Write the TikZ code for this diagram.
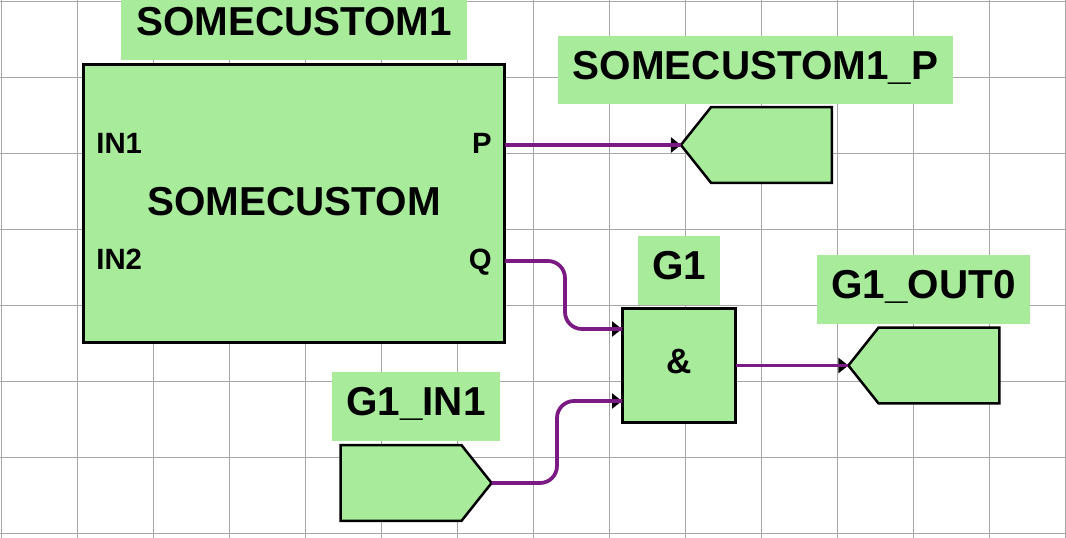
\documentclass[tikz,border=0pt]{standalone}
\usepackage{fontspec}
\setmainfont{Liberation Sans}
\usepackage{xcolor}
\usetikzlibrary{arrows.meta,shapes.symbols}
\definecolor{cellgreen}{HTML}{A8EC9B}
\definecolor{wirepurple}{HTML}{7B1A83}
\definecolor{gridgray}{HTML}{A6A6A6}

\begin{document}
\begin{tikzpicture}[
    x=0.02cm,y=-0.02cm,
    cell/.style   = {rectangle,draw=black,fill=cellgreen,line width=0.06cm,
                     inner sep=0pt,outer sep=0pt},
    taglab/.style = {rectangle,fill=cellgreen,inner sep=0pt,outer sep=0pt,
                     align=center,font=\fontsize{23}{25}\selectfont\bfseries,
                     text height=16.6pt,text depth=6.2pt},
    port/.style   = {font=\fontsize{16.7}{18}\selectfont\bfseries,inner sep=0pt,
                     text height=12pt,text depth=0pt},
    tagin/.style  = {signal,signal to=west,signal pointer angle=103,draw=black,
                     fill=cellgreen,line width=0.05cm,inner sep=0pt,outer sep=0pt,
                     minimum width=3.02cm,minimum height=1.52cm},
    tagout/.style = {tagin,signal to=east},
    fl/.style     = {wirepurple,line width=0.075cm,rounded corners=0.34cm,
                     preaction={draw,-{Triangle[black,length=0.2cm,width=0.3cm]}}},
  ]
  \useasboundingbox (0,0) rectangle (1066,538);

  % -- Grid ----------------------------------------------------------------
  \foreach \gx in {1,77,153,229,305,381,457,533,609,685,761,837,913,989,1065}
    \draw[gridgray,line width=0.02cm] (\gx,0) -- (\gx,538);
  \foreach \gy in {1,77,153,229,305,381,457,533}
    \draw[gridgray,line width=0.02cm] (0,\gy) -- (1066,\gy);

  % -- Block SOMECUSTOM ----------------------------------------------------
  \node[taglab,minimum width=6.92cm,minimum height=1.36cm] (lblcustom) at (294,26) {SOMECUSTOM1};
  \node[cell,minimum width=8.44cm,minimum height=5.58cm] (custom) at (294,203.5) {};
  \node[font=\fontsize{23}{25}\selectfont\bfseries,inner sep=0pt] (namecustom) at (294,202) {SOMECUSTOM};
  \node[port,anchor=west] (in1) at (96,143) {IN1};
  \node[port,anchor=west] (in2) at (96,259) {IN2};
  \node[port,anchor=east] (portp) at (492,143) {P};
  \node[port,anchor=east] (portq) at (492,259) {Q};
  \coordinate (outp) at (505,145);
  \coordinate (outq) at (505,261);

  % -- Gate G1 -------------------------------------------------------------
  \node[taglab,minimum width=1.64cm,minimum height=1.38cm] (lblg1) at (679,270.5) {G1};
  \node[cell,minimum width=2.28cm,minimum height=2.28cm,text depth=4.5pt,
        font=\fontsize{20}{22}\selectfont\bfseries] (g1) at (679,365.5) {\&};
  \coordinate (g1a) at (622,329);
  \coordinate (g1b) at (622,401);

  % -- Tags ----------------------------------------------------------------
  \node[taglab,minimum width=7.9cm,minimum height=1.36cm] (lblp) at (755.5,70) {SOMECUSTOM1\_P};
  \node[tagin] (tagp) at (771.5,145) {};
  \node[taglab,minimum width=4.26cm,minimum height=1.38cm] (lblout) at (923.5,289.5) {G1\_OUT0};
  \node[tagin] (tagout) at (939,365.5) {};
  \node[taglab,minimum width=3.36cm,minimum height=1.38cm] (lblin) at (416,406.5) {G1\_IN1};
  \node[tagout] (tagin1) at (401,483) {};

  % -- Wires ---------------------------------------------------------------
  \draw[fl] (outp) -- (tagp.west);
  \draw[fl] (outq) -- (565,261) -- (565,329) -- (g1a);
  \draw[fl] (tagin1.east) -- (557,483) -- (557,401) -- (g1b);
  \draw[fl] (g1.east) -- (tagout.west);

\end{tikzpicture}
\end{document}
